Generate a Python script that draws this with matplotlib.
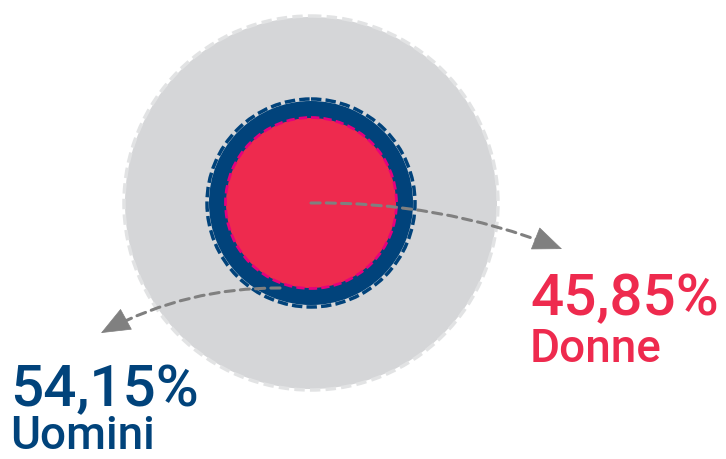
import numpy as np
import matplotlib
matplotlib.use('Agg')
import matplotlib.pyplot as plt
from matplotlib.patches import Circle, FancyArrowPatch

# data
labels = ['Uomini', 'Donne']
values = [54.15, 45.85]
colors = ['#01437b', '#ee2a4e']

fig = plt.figure(figsize=(7.26, 4.59), dpi=100)
ax = fig.add_axes([0, 0, 1, 1])
ax.set_xlim(0, 726)
ax.set_ylim(459, 0)
ax.axis('off')

cx, cy = 311, 203

# big grey disc with dashed rim
ax.add_patch(Circle((cx, cy), 186, facecolor='#d5d6d8', edgecolor='none'))
ax.add_patch(Circle((cx, cy), 187, facecolor='none', edgecolor='#e2e3e4',
                    lw=2.5, linestyle=(0, (3, 1.5))))

# navy ring
ax.add_patch(Circle((cx, cy), 102, facecolor=colors[0], edgecolor='none'))
ax.add_patch(Circle((cx, cy), 104, facecolor='none', edgecolor=colors[0],
                    lw=2.5, linestyle=(0, (3, 1.2))))

# red core with magenta dashed rim
ax.add_patch(Circle((cx, cy), 85, facecolor=colors[1], edgecolor='none'))
ax.add_patch(Circle((cx, cy), 85.5, facecolor='none', edgecolor='#e5007d',
                    lw=2, linestyle=(0, (3, 1.5))))


def curved_arrow(p0, p1, rad):
    # dashed body
    ax.add_patch(FancyArrowPatch(p0, p1, connectionstyle=f'arc3,rad={rad}',
                                 arrowstyle='-', color='#808080', lw=2.2,
                                 linestyle=(0, (3, 2)), shrinkA=0, shrinkB=4))
    # solid head along the end tangent (arc3 control point, display coords)
    d0 = ax.transData.transform(p0)
    d1 = ax.transData.transform(p1)
    dx, dy = d1 - d0
    ctrl = (d0 + d1) / 2 + rad * np.array([dy, -dx])
    t = (d1 - ctrl) / np.hypot(*(d1 - ctrl))
    start = ax.transData.inverted().transform(d1 - t * 20)
    ax.add_patch(FancyArrowPatch(start, p1, arrowstyle='-|>,head_length=1.1,head_width=0.45',
                                 mutation_scale=18, color='#808080', lw=0.5,
                                 shrinkA=0, shrinkB=0))


curved_arrow((cx, cy), (562, 249), -0.1)
curved_arrow((280, 288), (101, 333), 0.13)

# labels
font = 'Roboto'
ax.text(530, 315, f'{values[1]:.2f}%'.replace('.', ','), color=colors[1],
        fontsize=42, family=font, weight='medium', ha='left', va='baseline')
ax.text(530, 362, labels[1], color=colors[1], fontsize=33, family=font,
        weight='medium', ha='left', va='baseline')
ax.text(10, 406, f'{values[0]:.2f}%'.replace('.', ','), color=colors[0],
        fontsize=42, family=font, weight='medium', ha='left', va='baseline')
ax.text(10, 449, labels[0], color=colors[0], fontsize=33, family=font,
        weight='medium', ha='left', va='baseline')

plt.savefig('out.png', dpi=100)
